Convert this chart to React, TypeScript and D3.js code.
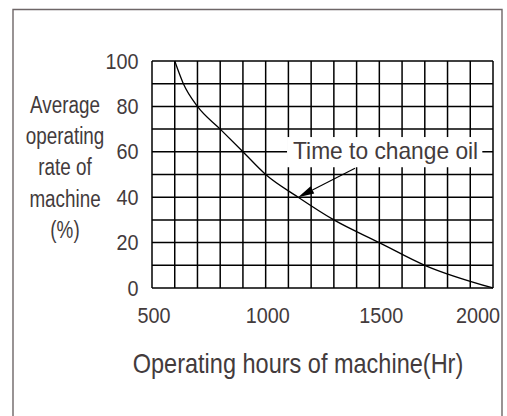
import React, { useEffect, useRef } from "react";
import * as d3 from "d3";

// operating hours vs average operating rate
const hours = [600, 638, 700, 800, 900, 1000, 1143, 1300, 1500, 1700, 2000];
const rates = [100, 90, 80, 70, 60, 50, 40, 30, 20, 10, 0];

const xTicks = [500, 1000, 1500, 2000];
const yTicks = [0, 20, 40, 60, 80, 100];
const yLabelLines = ["Average", "operating", "rate of", "machine", "(%)"];

// annotation (data coordinates)
const noteText = "Time to change oil";
const noteBox = { x0: 1094, x1: 1953, y0: 66.5, y1: 53.2 };
const noteArrowFrom = { h: 1393, r: 52.8 };
const noteArrowTo = { h: 1143, r: 40 };

const W = 507;
const H = 416;
const textColor = "#433b3c";
const font = "'Liberation Sans', Arial, Helvetica, sans-serif";

const App = () => {
  const ref = useRef<SVGSVGElement>(null);

  useEffect(() => {
    const svg = d3.select(ref.current);
    svg.selectAll("*").remove();

    const left = 152;
    const right = 493;
    const top = 61;
    const bottom = 288;

    const x = d3.scaleLinear().domain([500, 2000]).range([left, right]);
    const y = d3.scaleLinear().domain([0, 100]).range([bottom, top]);

    // the original lettering is narrow and tall, so squeeze it horizontally
    const label = (
      tx: number,
      ty: number,
      str: string | number,
      size: number,
      sx: number,
      anchor = "start"
    ) =>
      svg
        .append("text")
        .attr("transform", `translate(${tx},${ty}) scale(${sx},1)`)
        .attr("text-anchor", anchor)
        .attr("font-size", size)
        .attr("font-family", font)
        .attr("fill", textColor)
        .text(str);

    // outer frame (open at the bottom)
    svg
      .append("path")
      .attr("d", `M13,${H + 2}V9.5H502V${H + 2}`)
      .attr("fill", "none")
      .attr("stroke", "#6e6667")
      .attr("stroke-width", 1.4);

    // grid
    const g = svg.append("g");
    g.selectAll("line.v")
      .data(d3.range(500, 2001, 100))
      .enter()
      .append("line")
      .attr("x1", (d) => x(d))
      .attr("x2", (d) => x(d))
      .attr("y1", y(0))
      .attr("y2", y(100))
      .attr("stroke", "#000")
      .attr("stroke-width", 1.5);
    g.selectAll("line.h")
      .data(d3.range(0, 101, 10))
      .enter()
      .append("line")
      .attr("x1", x(500))
      .attr("x2", x(2000))
      .attr("y1", (d) => y(d))
      .attr("y2", (d) => y(d))
      .attr("stroke", "#000")
      .attr("stroke-width", 1.5);

    // curve
    const line = d3
      .line<number>()
      .x((d, i) => x(hours[i]))
      .y((d) => y(d))
      .curve(d3.curveMonotoneX);
    svg
      .append("path")
      .attr("d", line(rates))
      .attr("fill", "none")
      .attr("stroke", "#000")
      .attr("stroke-width", 1.3);

    // annotation box
    svg
      .append("rect")
      .attr("x", x(noteBox.x0))
      .attr("y", y(noteBox.y0))
      .attr("width", x(noteBox.x1) - x(noteBox.x0))
      .attr("height", y(noteBox.y1) - y(noteBox.y0))
      .attr("fill", "#fff");
    label(x(noteBox.x0) + 6, y(noteBox.y1) - 8.5, noteText, 23, 0.99);

    // arrow
    const ax0 = x(noteArrowFrom.h);
    const ay0 = y(noteArrowFrom.r);
    const ax1 = x(noteArrowTo.h);
    const ay1 = y(noteArrowTo.r);
    const ang = Math.atan2(ay1 - ay0, ax1 - ax0);
    const headLen = 16;
    const headHalf = 4;
    const bx = ax1 - headLen * Math.cos(ang);
    const by = ay1 - headLen * Math.sin(ang);
    svg
      .append("line")
      .attr("x1", ax0)
      .attr("y1", ay0)
      .attr("x2", bx)
      .attr("y2", by)
      .attr("stroke", "#000")
      .attr("stroke-width", 1.1);
    svg
      .append("path")
      .attr(
        "d",
        `M${ax1},${ay1}L${bx - headHalf * Math.sin(ang)},${by + headHalf * Math.cos(ang)}L${
          bx + headHalf * Math.sin(ang)
        },${by - headHalf * Math.cos(ang)}Z`
      )
      .attr("fill", "#000");

    // y tick labels
    yTicks.forEach((d) => label(left - 13.5, y(d) + 7.5, d, 22.5, 0.88, "end"));

    // x tick labels
    xTicks.forEach((d, i) => {
      const last = i === xTicks.length - 1;
      label(last ? x(d) + 7 : x(d) + 2, bottom + 35, d, 22.5, 0.88, last ? "end" : "middle");
    });

    // y axis title
    yLabelLines.forEach((d, i) => label(65, 113 + i * 31.2, d, 23, 0.82, "middle"));

    // x axis title
    label(298, 373, "Operating hours of machine(Hr)", 27.5, 0.855, "middle");
  }, []);

  return (
    <svg
      ref={ref}
      width={W}
      height={H}
      style={{ position: "absolute", left: 0, top: 0, background: "#fff" }}
    ></svg>
  );
};

export default App;
